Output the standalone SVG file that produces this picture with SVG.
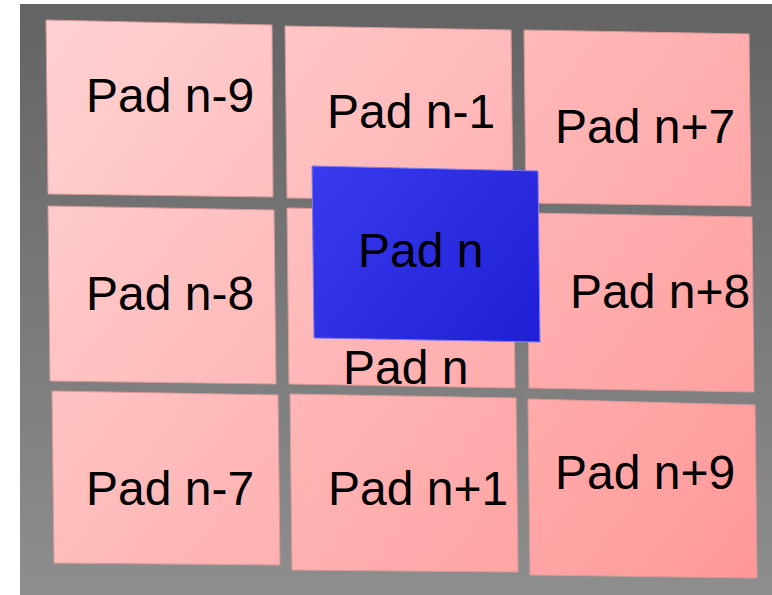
<svg xmlns="http://www.w3.org/2000/svg" width="772" height="595" viewBox="0 0 772 595">
<defs>
<linearGradient id="bg" x1="0" y1="0" x2="0" y2="1">
<stop offset="0" stop-color="#636363"/>
<stop offset="1" stop-color="#8e8e8e"/>
</linearGradient>
<linearGradient id="pink" gradientUnits="userSpaceOnUse" x1="40" y1="15" x2="760" y2="585">
<stop offset="0" stop-color="#ffd2d2"/>
<stop offset="1" stop-color="#ff9898"/>
</linearGradient>
<linearGradient id="blue" gradientUnits="userSpaceOnUse" x1="312" y1="166" x2="540" y2="342">
<stop offset="0" stop-color="#3a3aee"/>
<stop offset="1" stop-color="#1f1fd6"/>
</linearGradient>
</defs>
<style>
.pad{fill:url(#pink);stroke:#d99a9a;stroke-width:1}
.cur{fill:url(#blue);stroke:#7d7df0;stroke-width:1}
text{font-family:"Liberation Sans",Arial,sans-serif;font-size:48px;fill:#000}
</style>
<rect x="20" y="4" width="752" height="591" fill="url(#bg)"/>
<g id="pad-n-9"><polygon class="pad" points="46,20 272,25 273,197 48,194"/><text x="86" y="112">Pad n-9</text></g>
<g id="pad-n-1"><polygon class="pad" points="285,26 511,30 513,200 287,198"/><text x="327" y="128">Pad n-1</text></g>
<g id="pad-n+7"><polygon class="pad" points="524,30 749,34 751,206 526,203"/><text x="555" y="143">Pad n+7</text></g>
<g id="pad-n-8"><polygon class="pad" points="48,206 274,210 276,384 50,381"/><text x="86" y="310">Pad n-8</text></g>
<g id="pad-n-under"><polygon class="pad" points="287,208 513,212 515,388 289,384"/><text x="343" y="384">Pad n</text></g>
<g id="pad-n+8"><polygon class="pad" points="527,213 752,217 754,392 529,388"/><text x="570" y="308">Pad n+8</text></g>
<g id="pad-n-7"><polygon class="pad" points="52,391 278,395 280,565 54,563"/><text x="86" y="505">Pad n-7</text></g>
<g id="pad-n+1"><polygon class="pad" points="290,394 516,398 518,572 292,570"/><text x="328" y="505">Pad n+1</text></g>
<g id="pad-n+9"><polygon class="pad" points="528,399 755,405 757,578 530,575"/><text x="555" y="489">Pad n+9</text></g>
<g id="pad-n"><polygon class="cur" points="312,166 538,171 540,342 314,338"/><text x="358" y="267">Pad n</text></g>
<g id="connectors"></g>
</svg>
